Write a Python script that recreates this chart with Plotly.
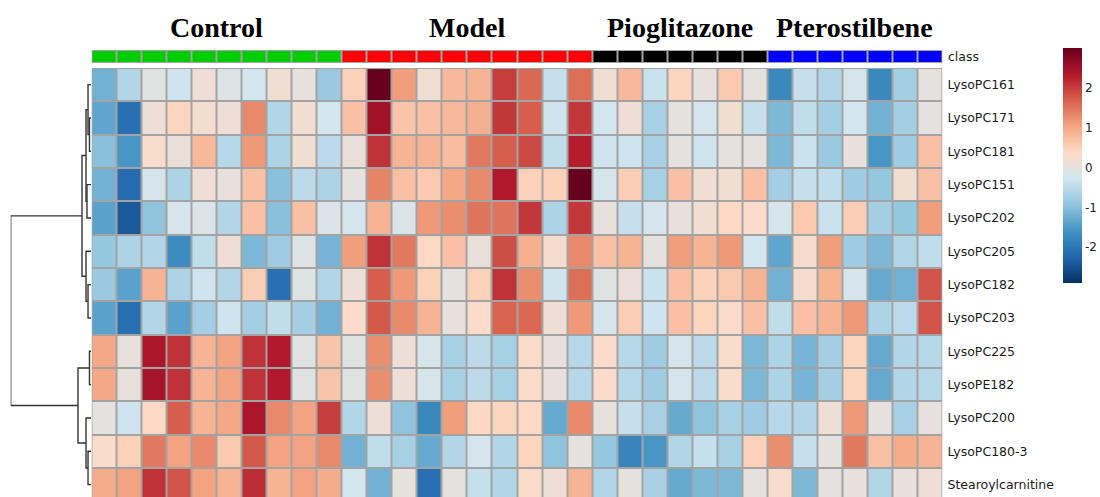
import plotly.graph_objects as go

# Features (rows) in dendrogram order
features = ["LysoPC161", "LysoPC171", "LysoPC181", "LysoPC151", "LysoPC202",
            "LysoPC205", "LysoPC182", "LysoPC203", "LysoPC225", "LysoPE182",
            "LysoPC200", "LysoPC180-3", "Stearoylcarnitine"]

group_names = ["Control", "Model", "Pioglitazone", "Pterostilbene"]
group_sizes = [10, 10, 7, 7]
group_colors = ["#00CD00", "#FF0000", "#000000", "#0000FF"]

# Auto-scaled intensities, one list per feature, one value per sample
control = [
    [-1.2, -0.6, -0.05, -0.3, 0.15, -0.1, -0.25, 0.2, 0.05, -0.85],
    [-1.35, -2.1, 0.15, 0.45, 0.25, 0.15, 1.3, -0.6, 0.2, -0.25],
    [-1.0, -1.55, 0.3, 0.1, 0.8, -0.55, 1.15, -0.65, 0.2, -0.5],
    [-1.2, -2.15, -0.2, -0.65, 0.15, 0.05, 0.7, -1.0, -0.5, -0.65],
    [-1.4, -2.4, -0.95, -0.2, -0.15, -0.6, 0.7, -1.0, 0.7, -0.15],
    [-0.9, -0.65, -0.6, -1.7, -0.45, 0.15, -1.1, -0.8, -0.1, -1.15],
    [-0.85, -1.4, 0.85, -0.65, -0.3, -0.6, 0.55, -2.1, -0.1, -0.6],
    [-1.4, -2.1, -0.6, -1.4, -0.75, -0.3, -0.75, -0.45, -0.75, -1.2],
    [1.0, 0.05, 2.4, 2.1, 0.85, 1.05, 2.1, 2.35, -0.05, 0.65],
    [1.0, 0.05, 2.45, 2.1, 0.85, 1.05, 2.1, 2.35, -0.05, 0.65],
    [0.0, -0.3, 0.4, 1.7, 0.85, 1.0, 2.4, 1.3, 1.05, 2.0],
    [0.35, 0.5, 1.45, 1.05, 1.3, 0.6, 1.75, 1.05, 1.05, 1.3],
    [0.95, 1.05, 2.1, 1.8, 1.05, 0.85, 2.15, 0.85, 1.05, 0.95],
]
model = [
    [0.5, 3.0, 1.1, 0.2, 0.8, 0.85, 2.0, 1.6, -0.4, 1.55],
    [0.7, 2.5, 0.65, 0.7, 0.8, 0.9, 2.05, 1.7, -0.3, 2.05],
    [0.1, 2.1, 0.85, 0.85, 0.75, 1.45, 1.7, 1.9, -0.45, 2.3],
    [0.0, 1.35, 0.7, 0.6, 1.0, 1.3, 2.35, 0.5, 0.5, 3.0],
    [-0.2, 0.85, -0.15, 1.15, 1.25, 1.5, 1.5, 2.05, -0.65, 2.05],
    [1.1, 2.1, 1.45, 0.4, 0.7, 0.1, 1.85, 0.9, 0.25, 1.3],
    [0.15, 1.7, 1.15, 0.5, 0.0, 0.5, 2.1, 1.25, -0.3, 1.55],
    [0.35, 1.75, 1.3, 0.85, 0.05, 0.35, 1.65, 1.6, 0.15, 1.15],
    [-0.05, 1.25, 0.15, -0.2, -0.7, -0.5, -0.7, 0.35, 0.05, -0.55],
    [-0.05, 1.25, 0.15, -0.2, -0.7, -0.5, -0.7, 0.35, 0.05, -0.55],
    [-0.6, 0.15, -0.95, -1.75, 1.1, 0.4, 0.45, 0.4, -1.3, 1.3],
    [-1.2, -0.45, -0.7, -1.3, -0.6, -0.2, -0.6, 0.45, -0.95, 0.0],
    [-0.25, -1.2, 0.05, -2.1, 0.0, -0.4, -0.6, 0.35, 0.15, 0.85],
]
pioglitazone = [
    [0.2, 0.8, -0.35, 0.45, 0.05, 0.6, 0.0],
    [-0.25, 0.15, -0.7, 0.0, -0.2, 0.2, -0.4],
    [-0.3, -0.3, -0.7, 0.0, -0.3, 0.0, 0.0],
    [-0.2, 0.55, -0.7, 0.7, 0.2, 0.2, 0.7],
    [0.05, -0.4, -0.2, 0.05, 0.2, 0.4, 0.35],
    [0.7, 0.85, 0.0, 1.1, 0.85, 1.15, -0.25],
    [-0.05, 0.1, -0.35, 0.7, 0.5, 0.6, 0.85],
    [-0.2, 0.55, -0.3, 0.7, 0.45, 0.35, 0.7],
    [0.35, -0.55, -0.8, -0.2, -0.5, 0.3, -1.1],
    [0.35, -0.55, -0.8, -0.2, -0.5, 0.3, -1.1],
    [0.05, -0.4, -0.7, -1.3, -0.95, -0.7, -0.8],
    [-0.9, -1.8, -1.55, -0.6, -0.4, -0.7, 0.5],
    [-0.6, 0.0, -0.7, -1.3, -1.1, -1.1, 0.05],
]
pterostilbene = [
    [-1.75, -0.4, -0.6, -0.2, -1.75, -0.75, 0.0],
    [-1.1, -0.45, -0.75, -0.25, -1.2, -0.75, 0.0],
    [-1.1, -0.35, -0.85, 0.05, -1.55, -0.8, 0.7],
    [-0.75, -0.4, -0.45, -0.8, -0.9, 0.2, 0.7],
    [-0.2, 0.6, -0.35, 0.55, -0.75, -0.9, 1.1],
    [-1.35, 0.25, 1.1, -0.8, -1.1, -0.6, -0.45],
    [-1.2, 0.25, 0.85, -0.2, -1.3, -1.2, 1.8],
    [-0.45, 0.7, 0.85, 1.15, -0.65, -0.5, 1.8],
    [-0.65, -1.15, -0.75, 0.45, -1.3, -0.6, -0.55],
    [-0.65, -1.15, -0.75, 0.45, -1.3, -0.6, -0.55],
    [-0.55, -0.6, 0.15, 1.15, 0.0, -0.7, 0.05],
    [1.25, -0.4, 0.0, 1.45, 0.7, 0.95, 0.85],
    [0.3, -1.1, 0.0, 0.05, -0.6, 0.05, 0.15],
]

# Row clustering: (left, right, height); ids >= 13 refer to earlier merges
linkage = [
    (1, 2, 0.19), (0, 13, 0.37), (3, 4, 0.50), (14, 15, 0.62),
    (6, 7, 0.37), (5, 17, 0.62), (16, 18, 1.12),
    (8, 9, 0.19), (11, 12, 0.37), (10, 21, 0.62), (20, 22, 1.62),
    (19, 23, 10.0),
]

z_min, z_max = -2.9, 3.0
colorbar_ticks = [-2, -1, 0, 1, 2]
colorbar_labels = ["-2", "-1", "0", "1", "2"]

rdbu = ["#053061", "#2166AC", "#4393C3", "#92C5DE", "#D1E5F0",
        "#FDDBC7", "#F4A582", "#D6604D", "#B2182B", "#67001F"]
colorscale = [[i / (len(rdbu) - 1), c] for i, c in enumerate(rdbu)]

n_rows = len(features)
z = [control[i] + model[i] + pioglitazone[i] + pterostilbene[i] for i in range(n_rows)]
n_cols = sum(group_sizes)

# class strip
class_idx = []
for g, size in enumerate(group_sizes):
    class_idx += [g] * size
n_g = len(group_colors)
class_scale = []
for g, c in enumerate(group_colors):
    class_scale += [[g / n_g, c], [(g + 1) / n_g, c]]

# dendrogram segments
pos = {i: (float(i), 0.0) for i in range(n_rows)}
dx, dy = [], []
for k, (a, b, h) in enumerate(linkage):
    ya, ha = pos[a]
    yb, hb = pos[b]
    dx += [ha, h, h, hb, None]
    dy += [ya, ya, yb, yb, None]
    pos[n_rows + k] = ((ya + yb) / 2, h)

W, H = 1100, 497
heat_left, heat_right = 91.5, 942.5
heat_top = 68.0
row_h = 33.33
y_bottom = -0.5 + (H - heat_top) / row_h

fig = go.Figure()

fig.add_trace(go.Heatmap(
    z=z, x=list(range(n_cols)), y=list(range(n_rows)),
    colorscale=colorscale, zmin=z_min, zmax=z_max,
    xgap=2, ygap=2, hoverongaps=False,
    colorbar=dict(
        x=1063 / W, xanchor="left", xpad=0,
        y=1 - 165.5 / H, yanchor="middle", ypad=0,
        len=235, lenmode="pixels", thickness=19,
        outlinewidth=0, tickvals=colorbar_ticks, ticktext=colorbar_labels,
        ticks="", ticklabelposition="outside",
        tickfont=dict(family="DejaVu Sans", size=12, color="#222222"),
    ),
    xaxis="x", yaxis="y",
))

fig.add_trace(go.Heatmap(
    z=[class_idx], x=list(range(n_cols)), y=[0],
    colorscale=class_scale, zmin=-0.5, zmax=n_g - 0.5,
    showscale=False, xgap=2, ygap=2,
    xaxis="x", yaxis="y2",
))

fig.add_trace(go.Scatter(
    x=dx, y=dy, mode="lines",
    line=dict(color="#333333", width=1.4),
    cliponaxis=False, showlegend=False, hoverinfo="skip",
    xaxis="x2", yaxis="y",
))

# gray cell borders behind heatmap bricks
border = "#A3A3A3"
fig.add_shape(type="rect", xref="x", yref="y", x0=-0.5, x1=n_cols - 0.5,
              y0=-0.5, y1=y_bottom, fillcolor=border, line_width=0, layer="below")
fig.add_shape(type="rect", xref="x", yref="y2", x0=-0.5, x1=n_cols - 0.5,
              y0=-0.5, y1=0.5, fillcolor=border, line_width=0, layer="below")

# group titles
start = 0
for name, size in zip(group_names, group_sizes):
    fig.add_annotation(
        x=start + (size - 1) / 2, xref="x", y=1 - 27 / H, yref="paper",
        text=f"<b>{name}</b>", showarrow=False, xanchor="center", yanchor="middle",
        font=dict(family="Liberation Serif", size=28, color="#000000"),
    )
    start += size

fig.add_annotation(
    x=946 / W, xref="paper", y=1 - 57 / H, yref="paper", text="class",
    showarrow=False, xanchor="left", yanchor="middle",
    font=dict(family="DejaVu Sans", size=12.5, color="#1a1a1a"),
)

fig.update_layout(
    width=W, height=H, margin=dict(l=0, r=0, t=0, b=0),
    paper_bgcolor="white", plot_bgcolor="white", showlegend=False,
    xaxis=dict(domain=[heat_left / W, heat_right / W], range=[-0.5, n_cols - 0.5],
               visible=False, anchor="y"),
    yaxis=dict(domain=[0, 1 - heat_top / H], range=[y_bottom, -0.5],
               side="right", anchor="x", tickvals=list(range(n_rows)), ticktext=features,
               ticks="", showgrid=False, zeroline=False, showline=False,
               ticklabelstandoff=4,
               tickfont=dict(family="DejaVu Sans", size=12.5, color="#1a1a1a")),
    yaxis2=dict(domain=[1 - 63 / H, 1 - 50 / H], range=[0.5, -0.5],
                visible=False, anchor="x"),
    xaxis2=dict(domain=[10.7 / W, 91 / W], range=[10, 0], visible=False, anchor="y"),
)

fig.write_html("out.html")
